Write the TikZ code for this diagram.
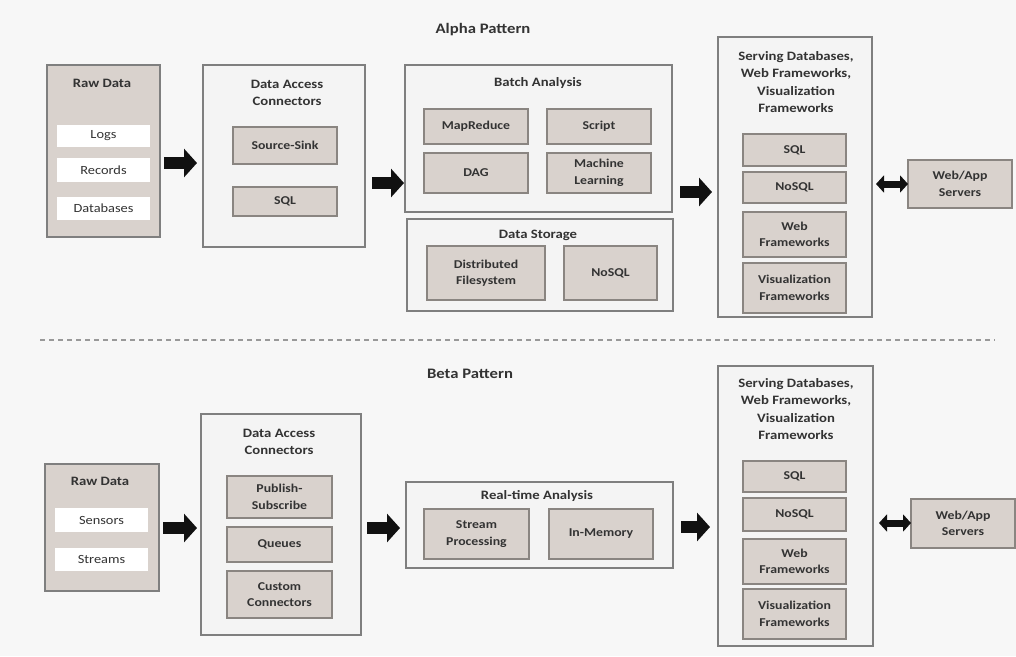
\documentclass[tikz,border=0pt]{standalone}
\usepackage{fontspec}
\setmainfont{Carlito}[FakeStretch=1.15]
\usetikzlibrary{arrows.meta}
\definecolor{bg}{HTML}{F7F7F7}
\definecolor{outerfill}{HTML}{F4F4F4}
\definecolor{outerdraw}{HTML}{7F7F7F}
\definecolor{innerfill}{HTML}{D9D2CD}
\definecolor{innerdraw}{HTML}{8A8581}
\definecolor{txt}{HTML}{333333}
\definecolor{arr}{HTML}{111111}
\newcommand{\bx}[7]{\node[#6, minimum width={(#4-#2)*1pt}, minimum height={(#5-#3)*1pt}] (#1) at ({(#2+#4)/2},{(#3+#5)/2}) {#7};}
\tikzset{
  outerbox/.style={draw=outerdraw, fill=outerfill, line width=1.5pt, inner sep=0pt, outer sep=0pt},
  rawbox/.style={draw=outerdraw, fill=innerfill, line width=1.5pt, inner sep=0pt, outer sep=0pt},
  innerbox/.style={draw=innerdraw, fill=innerfill, line width=1.5pt, inner sep=0pt, outer sep=0pt,
    font=\bfseries\fontsize{12}{16.5}\selectfont, align=center, text=txt},
  itembox/.style={fill=white, inner sep=0pt, outer sep=0pt, font=\fontsize{12.5}{15}\selectfont, text=txt},
  boxtitle/.style={font=\bfseries\fontsize{12.8}{17.5}\selectfont, align=center, text=txt, inner sep=0pt},
  pattitle/.style={font=\bfseries\fontsize{14.5}{17.5}\selectfont, text=txt, inner sep=0pt},
  bigarrow/.style={draw=arr, line width=12pt, -{Triangle[length=13pt,width=28pt]}},
  dblarrow/.style={draw=arr, line width=7pt, {Triangle[length=8pt,width=17pt]}-{Triangle[length=8pt,width=17pt]}},
}
\begin{document}
\begin{tikzpicture}[x=1pt,y=-1pt]
\useasboundingbox[fill=bg] (0,0) rectangle (1016,656);

% ---------------- Alpha ----------------
\node[pattitle] (alpha) at (483,30) {Alpha Pattern};

\bx{rawA}{47}{65}{160}{237}{rawbox}{}
\node[boxtitle] (rawAt) at (102,83) {Raw Data};
\bx{logs}{57}{125}{150}{147}{itembox}{Logs}
\bx{records}{57}{158}{150}{182}{itembox}{Records}
\bx{dbs}{57}{197}{150}{220}{itembox}{Databases}

\bx{dacA}{203}{65}{365}{247}{outerbox}{}
\node[boxtitle] (dacAt) at (287,93) {Data Access\\Connectors};
\bx{srcsink}{233}{127}{337}{164}{innerbox}{Source-Sink}
\bx{sqlA}{233}{187}{337}{216}{innerbox}{SQL}

\bx{batch}{405}{65}{672}{212}{outerbox}{}
\node[boxtitle] (batcht) at (538,83) {Batch Analysis};
\bx{mapred}{424}{109}{528}{144}{innerbox}{MapReduce}
\bx{script}{547}{109}{651}{144}{innerbox}{Script}
\bx{dag}{424}{153}{528}{193}{innerbox}{DAG}
\bx{ml}{547}{153}{651}{193}{innerbox}{Machine\\Learning}

\bx{storage}{407}{219}{673}{311}{outerbox}{}
\node[boxtitle] (storaget) at (538,235) {Data Storage};
\bx{dfs}{427}{246}{545}{300}{innerbox}{Distributed\\Filesystem}
\bx{nosqlS}{564}{246}{657}{300}{innerbox}{NoSQL}

\bx{servA}{718}{37}{872}{317}{outerbox}{}
\node[boxtitle] (servAt) at (796,82) {Serving Databases,\\Web Frameworks,\\Visualization\\Frameworks};
\bx{sqlSA}{743}{134}{846}{166}{innerbox}{SQL}
\bx{nosqlSA}{743}{172}{846}{203}{innerbox}{NoSQL}
\bx{webfA}{743}{212}{846}{257}{innerbox}{Web\\Frameworks}
\bx{visA}{743}{263}{846}{313}{innerbox}{Visualization\\Frameworks}

\bx{webA}{908}{160}{1012}{208}{innerbox}{Web/App\\Servers}

\coordinate (ya1) at (0,163);
\coordinate (ya2) at (0,183);
\coordinate (ya3) at (0,192);
\coordinate (ya4) at (0,184);
\draw[bigarrow, shorten <=4pt, shorten >=6pt] (rawA.east |- ya1) -- (dacA.west |- ya1);
\draw[bigarrow, shorten <=7pt, shorten >=1pt] (dacA.east |- ya2) -- (batch.west |- ya2);
\draw[bigarrow, shorten <=8pt, shorten >=6pt] (batch.east |- ya3) -- (servA.west |- ya3);
\draw[dblarrow, shorten <=4pt, shorten >=0pt] (servA.east |- ya4) -- (webA.west |- ya4);

% separator
\coordinate (sepL) at (40,340);
\coordinate (sepR) at (995,340);
\draw[draw=outerdraw!80, line width=1.2pt, dash pattern=on 5pt off 4pt] (sepL) -- (sepR);

% ---------------- Beta ----------------
\node[pattitle] (beta) at (470,374) {Beta Pattern};

\bx{rawB}{45}{464}{159}{591}{rawbox}{}
\node[boxtitle] (rawBt) at (100,481) {Raw Data};
\bx{sensors}{55}{508}{148}{532}{itembox}{Sensors}
\bx{streams}{55}{548}{148}{571}{itembox}{Streams}

\bx{dacB}{201}{414}{361}{635}{outerbox}{}
\node[boxtitle] (dacBt) at (279,442) {Data Access\\Connectors};
\bx{pubsub}{227}{476}{332}{518}{innerbox}{Publish-\\Subscribe}
\bx{queues}{227}{527}{332}{562}{innerbox}{Queues}
\bx{custom}{227}{571}{332}{618}{innerbox}{Custom\\Connectors}

\bx{rt}{406}{482}{673}{568}{outerbox}{}
\node[boxtitle] (rtt) at (537,496) {Real-time Analysis};
\bx{streamp}{424}{509}{529}{559}{innerbox}{Stream\\Processing}
\bx{inmem}{549}{509}{653}{559}{innerbox}{In-Memory}

\bx{servB}{718}{366}{873}{646}{outerbox}{}
\node[boxtitle] (servBt) at (796,409) {Serving Databases,\\Web Frameworks,\\Visualization\\Frameworks};
\bx{sqlSB}{743}{461}{846}{492}{innerbox}{SQL}
\bx{nosqlSB}{743}{498}{846}{531}{innerbox}{NoSQL}
\bx{webfB}{743}{539}{846}{584}{innerbox}{Web\\Frameworks}
\bx{visB}{743}{589}{846}{639}{innerbox}{Visualization\\Frameworks}

\bx{webB}{911}{499}{1015}{548}{innerbox}{Web/App\\Servers}

\coordinate (yb1) at (0,528);
\coordinate (yb2) at (0,528);
\coordinate (yb3) at (0,527);
\coordinate (yb4) at (0,523);
\draw[bigarrow, shorten <=4pt, shorten >=4pt] (rawB.east |- yb1) -- (dacB.west |- yb1);
\draw[bigarrow, shorten <=6pt, shorten >=6pt] (dacB.east |- yb2) -- (rt.west |- yb2);
\draw[bigarrow, shorten <=8pt, shorten >=8pt] (rt.east |- yb3) -- (servB.west |- yb3);
\draw[dblarrow, shorten <=6pt, shorten >=0pt] (servB.east |- yb4) -- (webB.west |- yb4);
\end{tikzpicture}
\end{document}
